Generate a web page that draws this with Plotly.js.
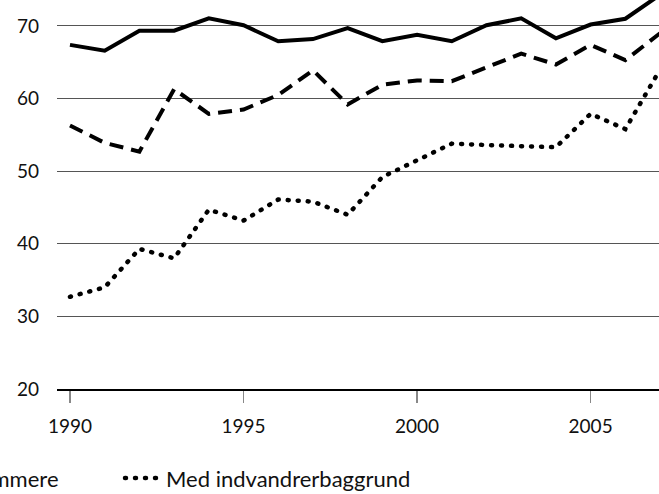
<!DOCTYPE html>
<html>
<head>
<meta charset="utf-8">
<script src="https://cdn.plot.ly/plotly-3.0.1.min.js"></script>
<style>
html,body{margin:0;padding:0;background:#fff;}
#chart{width:659px;height:494px;}
</style>
</head>
<body>
<div id="chart"></div>
<script>
const years = [1990,1991,1992,1993,1994,1995,1996,1997,1998,1999,2000,2001,2002,2003,2004,2005,2006,2007];
const seriesNames = ["Dansk oprindelse", "Efterkommere", "Med indvandrerbaggrund"];
const solidValues  = [67.4,66.6,69.35,69.35,71.05,70.1,67.9,68.2,69.7,67.9,68.8,67.9,70.1,71.05,68.3,70.2,71.0,74.3];
const dashedValues = [56.3,53.9,52.7,61.3,57.9,58.5,60.5,63.9,59.2,61.9,62.5,62.4,64.3,66.2,64.7,67.4,65.3,69.0];
const dottedValues = [32.7,34.0,39.3,38.0,44.7,43.2,46.1,45.8,44.0,49.2,51.5,53.8,53.6,53.5,53.3,57.9,55.8,64.0];
const xTickValues = [1990,1995,2000,2005];
const xTickLabels = ["1990","1995","2000","2005"];
const yTickValues = [20,30,40,50,60,70];
const yTickLabels = ["20","30","40","50","60","70"];

const FONT = "Lato, 'Open Sans', 'DejaVu Sans', sans-serif";

const data = [
  {x: years, y: solidValues, name: seriesNames[0], type: 'scatter', mode: 'lines', legend: 'legend',
   line: {color: '#000', width: 4, dash: 'solid'}},
  {x: years, y: dashedValues, name: seriesNames[1], type: 'scatter', mode: 'lines', legend: 'legend',
   line: {color: '#000', width: 4, dash: '14px,8px'}},
  {x: years, y: dottedValues, name: seriesNames[2], type: 'scatter', mode: 'lines', legend: 'legend2',
   line: {color: '#000', width: 4.5, dash: '1px,9px'}}
];

const legendFont = {family: FONT, size: 22, color: '#111'};

const layout = {
  width: 659, height: 494,
  margin: {l: 57, r: 0, t: 0, b: 105, autoexpand: false},
  paper_bgcolor: '#fff', plot_bgcolor: '#fff',
  font: {family: FONT, color: '#111', size: 19},
  showlegend: true,
  legend: {
    orientation: 'h', xref: 'paper', yref: 'container',
    x: 0.0116, xanchor: 'right', y: 0.032, yanchor: 'middle',
    font: legendFont, bgcolor: 'rgba(0,0,0,0)', traceorder: 'normal'
  },
  legend2: {
    orientation: 'h', xref: 'paper', yref: 'container',
    x: (120 - 57) / 602, xanchor: 'left', y: 0.032, yanchor: 'middle',
    itemwidth: 36,
    font: legendFont, bgcolor: 'rgba(0,0,0,0)'
  },
  xaxis: {
    range: [1989.626, 2006.97], tickvals: xTickValues, ticktext: xTickLabels,
    ticks: 'outside', ticklen: 12, tickwidth: 1.5, tickcolor: '#888',
    showline: true, linecolor: '#000', linewidth: 1.5,
    showgrid: false, zeroline: false, ticklabelstandoff: 8,
    tickfont: {family: FONT, size: 19, color: '#111'}
  },
  yaxis: {
    range: [20, 73.58], tickvals: yTickValues, ticktext: yTickLabels,
    ticks: '', showline: false, zeroline: false,
    showgrid: true, gridcolor: '#555', gridwidth: 1,
    ticklabelstandoff: 17,
    tickfont: {family: FONT, size: 19, color: '#111'}
  }
};

Plotly.newPlot('chart', data, layout, {staticPlot: true, displayModeBar: false}).then(function(gd){
  gd.querySelectorAll('path.js-line').forEach(function(p){
    const da = (p.style.strokeDasharray || '').replace(/\s/g,'');
    if (da.indexOf('1px,9px') === 0) p.style.strokeLinecap = 'round';
  });
});
</script>
</body>
</html>
